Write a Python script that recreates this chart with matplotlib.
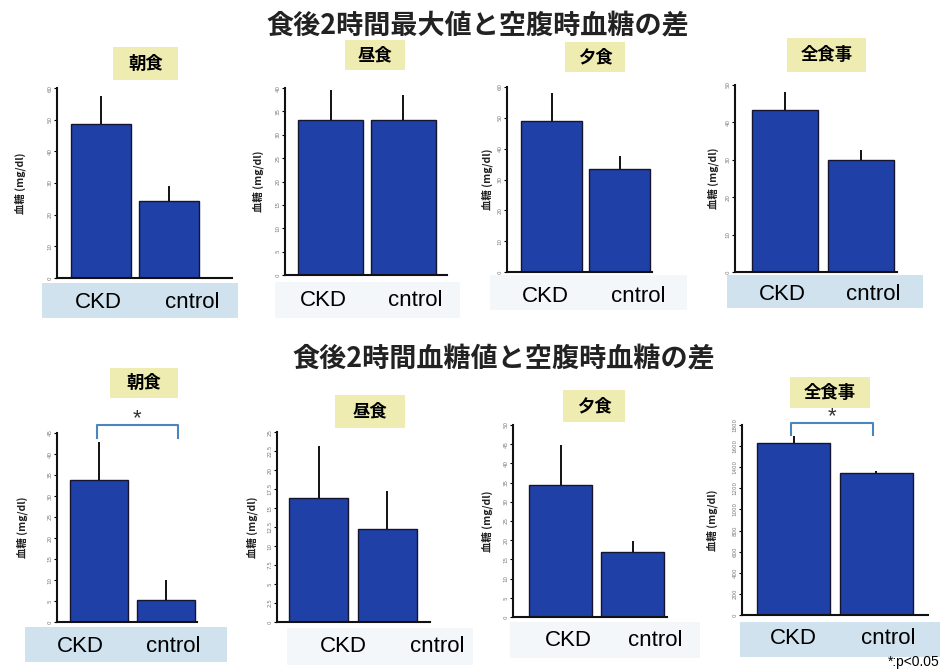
import matplotlib
matplotlib.use("Agg")
import matplotlib.pyplot as plt
from matplotlib.patches import Rectangle
from matplotlib.lines import Line2D

W, H = 942, 670

groups = ["CKD", "cntrol"]
meals = ["朝食", "昼食", "夕食", "全食事"]

title_top = "食後2時間最大値と空腹時血糖の差"
title_bottom = "食後2時間血糖値と空腹時血糖の差"

# peak value minus fasting glucose
peak_ckd = [48.6, 33.2, 49.0, 43.3]
peak_ckd_sd = [8.9, 6.4, 9.0, 4.9]
peak_ctrl = [24.4, 33.2, 33.5, 29.9]
peak_ctrl_sd = [4.6, 5.2, 4.0, 2.7]

# 2h value minus fasting glucose
post_ckd = [33.8, 16.3, 34.3, 1626]
post_ckd_sd = [9.0, 6.8, 10.5, 70]
post_ctrl = [5.2, 12.3, 17.0, 1342]
post_ctrl_sd = [4.8, 4.9, 2.7, 22]

peak_ymax = [60, 40, 60, 50]
peak_ystep = [10, 5, 10, 10]
post_ymax = [45, 25, 50, 1800]
post_ystep = [5, 2.5, 5, 200]

BAR = "#1f40a6"
STRIP = "#cfe2ed"
STRIP_FAINT = "#f3f7fa"
TAG = "#eeecb0"
BRACKET = "#4a86bd"
JP = ["Noto Sans CJK JP", "DejaVu Sans"]
LAT = "Liberation Sans"

# panel layout in pixels: axis left, right, top, bottom, bar centres, bar width
top_panels = [
    dict(l=57, r=232, t=88, b=278, c0=100.7, c1=169, bw=60),
    dict(l=285, r=447, t=88, b=275, c0=330.5, c1=403, bw=65),
    dict(l=507, r=652, t=87, b=272, c0=551.5, c1=619.5, bw=61),
    dict(l=735, r=897, t=85, b=272, c0=785, c1=861, bw=66),
]
bottom_panels = [
    dict(l=57, r=197, t=433, b=622, c0=99, c1=165.5, bw=58),
    dict(l=277, r=430, t=432, b=622, c0=318.5, c1=387, bw=59),
    dict(l=513, r=667, t=425, b=617, c0=560.5, c1=632.5, bw=63),
    dict(l=742, r=928, t=425, b=615, c0=793.5, c1=876, bw=73),
]

# tag boxes (x0, y0, x1, y1) and label strips
top_tags = [(113, 47, 178, 80), (345, 40, 405, 70), (565, 42, 625, 72), (787, 38, 866, 72)]
bottom_tags = [(110, 368, 178, 398), (335, 395, 405, 428), (563, 390, 625, 422), (790, 377, 870, 408)]
top_strips = [((42, 283, 238, 318), STRIP, 98, 192, 302),
              ((275, 282, 460, 318), STRIP_FAINT, 323, 415, 300),
              ((490, 275, 687, 310), STRIP_FAINT, 545, 638, 296),
              ((727, 275, 923, 308), STRIP, 782, 873, 294)]
bottom_strips = [((25, 627, 227, 662), STRIP, 80, 173, 646),
                 ((287, 628, 473, 665), STRIP_FAINT, 343, 437, 646),
                 ((510, 622, 700, 658), STRIP_FAINT, 568, 655, 640),
                 ((740, 622, 940, 657), STRIP, 793, 888, 638)]
ylabel_x_top = [20, 258, 487, 713]
ylabel_x_bottom = [22, 252, 487, 712]


def fx(x):
    return x / W


def fy(y):
    return 1 - y / H


fig = plt.figure(figsize=(W / 100, H / 100), dpi=100, facecolor="white")


def rect_px(x0, y0, x1, y1, color):
    fig.patches.append(Rectangle((fx(x0), fy(y1)), fx(x1) - fx(x0), fy(y0) - fy(y1),
                                 transform=fig.transFigure, facecolor=color,
                                 edgecolor="none", zorder=0))


def draw_panel(p, vals, sds, ymax, ystep, tag, strip, ylx):
    (sx0, sy0, sx1, sy1), scol, tx0, tx1, ty = strip
    rect_px(sx0, sy0, sx1, sy1, scol)
    fig.text(fx(tx0), fy(ty), groups[0], fontsize=16, family=LAT, ha="center", va="center")
    fig.text(fx(tx1), fy(ty), groups[1], fontsize=16, family=LAT, ha="center", va="center")

    x0, y0, x1, y1 = tag
    rect_px(x0, y0, x1, y1, TAG)

    spacing = p["c1"] - p["c0"]
    ax = fig.add_axes((fx(p["l"]), fy(p["b"]), fx(p["r"]) - fx(p["l"]), fy(p["t"]) - fy(p["b"])))
    ax.patch.set_alpha(0)
    ax.bar([0, 1], vals, width=p["bw"] / spacing, color=BAR, edgecolor="#151530",
           linewidth=1.0, zorder=2)
    ax.errorbar([0, 1], vals, yerr=[[0, 0], sds], fmt="none", ecolor="#111111",
                elinewidth=1.4, capsize=0, zorder=1)
    ax.set_xlim((p["l"] - p["c0"]) / spacing, (p["r"] - p["c0"]) / spacing)
    ax.set_ylim(0, ymax)
    n = int(round(ymax / ystep))
    ticks = [i * ystep for i in range(n + 1)]
    ax.set_yticks(ticks)
    ax.set_yticklabels([f"{t:g}" for t in ticks], fontsize=4, color="#777777", rotation=90,
                       va="center")
    ax.tick_params(axis="y", length=2, width=0.8, pad=1)
    ax.set_xticks([])
    for s in ["top", "right"]:
        ax.spines[s].set_visible(False)
    for s in ["left", "bottom"]:
        ax.spines[s].set_linewidth(1.5)
        ax.spines[s].set_color("#111111")

    ymid = (p["t"] + p["b"]) / 2
    fig.text(fx(ylx), fy(ymid), "血糖 (mg/dl)", rotation=90, fontsize=7.5,
             fontweight="bold", family=JP, ha="center", va="center", color="#222222")
    return ax


for i in range(4):
    draw_panel(top_panels[i], [peak_ckd[i], peak_ctrl[i]], [peak_ckd_sd[i], peak_ctrl_sd[i]],
               peak_ymax[i], peak_ystep[i], top_tags[i], top_strips[i], ylabel_x_top[i])
    draw_panel(bottom_panels[i], [post_ckd[i], post_ctrl[i]], [post_ckd_sd[i], post_ctrl_sd[i]],
               post_ymax[i], post_ystep[i], bottom_tags[i], bottom_strips[i], ylabel_x_bottom[i])

for tags in (top_tags, bottom_tags):
    for name, (x0, y0, x1, y1) in zip(meals, tags):
        fig.text(fx((x0 + x1) / 2), fy((y0 + y1) / 2), name, fontsize=12.5,
                 fontweight="bold", family=JP, ha="center", va="center")

fig.text(fx(478), fy(25), title_top, fontsize=19.5, fontweight="bold", family=JP,
         ha="center", va="center", color="#222222")
fig.text(fx(504), fy(358), title_bottom, fontsize=19.5, fontweight="bold", family=JP,
         ha="center", va="center", color="#222222")

# significance brackets
for xl, xr, yt, yb in [(97, 178, 425, 438), (791, 873, 423, 435)]:
    fig.lines.append(Line2D([fx(xl), fx(xl), fx(xr), fx(xr)], [fy(yb), fy(yt), fy(yt), fy(yb)],
                            transform=fig.transFigure, color=BRACKET, linewidth=1.5))
    fig.text(fx((xl + xr) / 2), fy(yt - 6), "*", fontsize=16, family=LAT,
             ha="center", va="center", color="#333333")

fig.text(fx(940), fy(662), "*:p<0.05", fontsize=10, family=LAT, ha="right", va="center")

fig.savefig("out.png", dpi=100, facecolor="white")
